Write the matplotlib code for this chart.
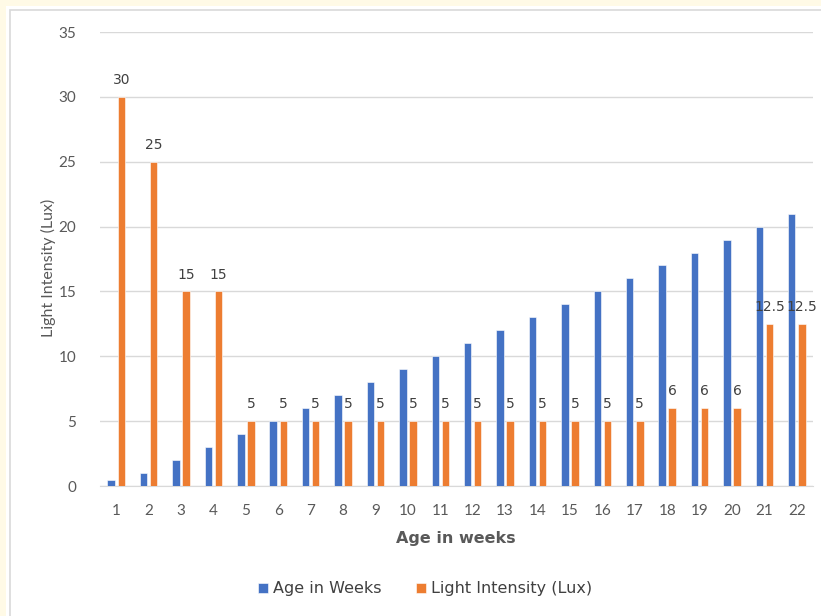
import matplotlib.pyplot as plt
import numpy as np
from matplotlib.patches import Rectangle

weeks = [str(w) for w in range(1, 23)]
age_in_weeks = [0.5, 1, 2, 3, 4, 5, 6, 7, 8, 9, 10, 11, 12, 13, 14, 15, 16, 17, 18, 19, 20, 21]
light_lux = [30, 25, 15, 15, 5, 5, 5, 5, 5, 5, 5, 5, 5, 5, 5, 5, 5, 6, 6, 6, 12.5, 12.5]

blue = '#4472C4'
orange = '#ED7D31'
grey_text = '#595959'
grid_col = '#D9D9D9'

fig = plt.figure(figsize=(8.21, 6.16), dpi=100, facecolor='#FFFAE6')

# white chart area with a thin grey frame
fig.patches.append(Rectangle((6 / 821, -0.1), 1.1, 1.1 - 6 / 616,
                             transform=fig.transFigure, facecolor='white',
                             edgecolor='none', zorder=0))
fig.patches.append(Rectangle((10 / 821, -0.1), 1.1, 1.1 - 10 / 616,
                             transform=fig.transFigure, facecolor='white',
                             edgecolor=grid_col, linewidth=1.2, zorder=0))

ax = fig.add_axes([100 / 821, 1 - 486 / 616, 713 / 821, 454 / 616])
ax.set_facecolor('none')
ax.set_zorder(2)

x = np.arange(len(weeks))
w = 0.23
off = 0.155
ax.bar(x - off, age_in_weeks, w, color=blue, edgecolor='white', linewidth=0.4,
       label='Age in Weeks', zorder=3)
ob = ax.bar(x + off, light_lux, w, color=orange, edgecolor='white', linewidth=0.4,
            label='Light Intensity (Lux)', zorder=3)
ax.bar_label(ob, labels=[f'{v:g}' for v in light_lux], padding=7,
             fontsize=10, color='#404040', family='DejaVu Sans')

ax.set_xlim(-0.5, len(weeks) - 0.5)
ax.set_ylim(0, 35)
ax.set_yticks(range(0, 36, 5))
ax.set_xticks(x, weeks)
ax.grid(axis='y', color=grid_col, linewidth=1, zorder=0)
ax.set_axisbelow(True)
for s in ['top', 'right', 'left']:
    ax.spines[s].set_visible(False)
ax.spines['bottom'].set_color(grid_col)
ax.tick_params(axis='both', length=0, labelsize=11, labelcolor=grey_text)
ax.tick_params(axis='y', pad=17)
ax.tick_params(axis='x', pad=13)
for lab in ax.get_xticklabels() + ax.get_yticklabels():
    lab.set_family('Lato')

fig.text(48 / 821, 1 - 268 / 616, 'Light Intensity (Lux)', rotation=90,
         ha='center', va='center', fontsize=11.5, color=grey_text, family='Lato')
fig.text(456 / 821, 1 - 538 / 616, 'Age in weeks', ha='center', va='center',
         fontsize=11.5, fontweight='bold', color=grey_text, family='DejaVu Sans')

fig.legend(loc='center', bbox_to_anchor=(425 / 821, 1 - 589 / 616), ncol=2,
           frameon=False, fontsize=11.5, handlelength=0.6, handleheight=0.6,
           handletextpad=0.3, columnspacing=2.2, labelcolor='#404040')

fig.savefig('out.png', dpi=100, facecolor=fig.get_facecolor())
